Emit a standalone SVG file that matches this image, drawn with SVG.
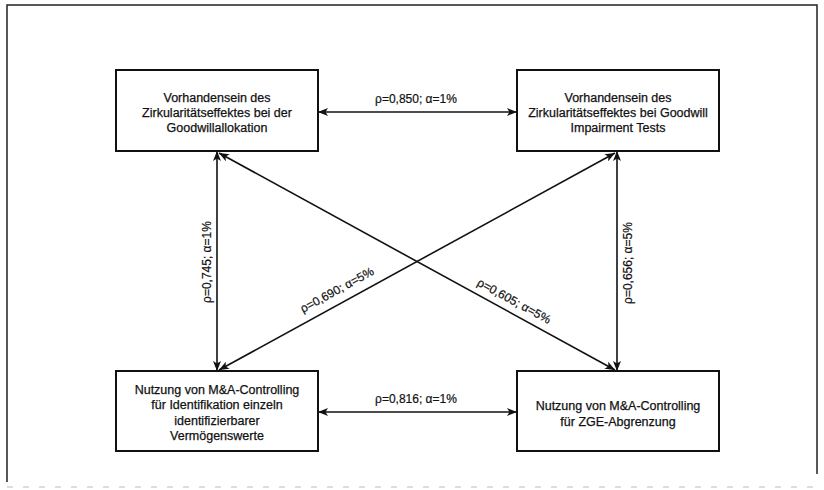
<svg xmlns="http://www.w3.org/2000/svg" width="824" height="490" viewBox="0 0 824 490">
  <style>
    .box { fill: #ffffff; stroke: #111111; stroke-width: 2; }
    .node-text { font-family: "Liberation Sans", Arial, sans-serif; font-size: 12.5px; fill: #111111; stroke: #111111; stroke-width: 0.25; text-anchor: middle; }
    .edge { stroke: #111111; stroke-width: 1.6; fill: none; marker-start: url(#head); marker-end: url(#head); }
    .edge-label { font-family: "Liberation Sans", Arial, sans-serif; font-size: 12px; fill: #111111; stroke: #111111; stroke-width: 0.2; text-anchor: middle; }
    .frame { stroke: #222222; stroke-width: 1.5; fill: none; }
  </style>
  <defs>
    <marker id="head" viewBox="0 0 10 8" refX="10" refY="4" markerWidth="10" markerHeight="8" markerUnits="userSpaceOnUse" orient="auto-start-reverse">
      <path d="M0,0 L10,4 L0,8 L2.5,4 Z" fill="#111111"/>
    </marker>
  </defs>

  <rect width="824" height="490" fill="#ffffff"/>

  <!-- outer frame -->
  <path class="frame" d="M7,482 L7,5 L817,5 L817,474"/>
  <line x1="7" y1="487" x2="817" y2="487" stroke="#bbbbbb" stroke-width="1" stroke-dasharray="6 10"/>

  <!-- connectors -->
  <g id="connectors">
    <line class="edge" x1="318" y1="112" x2="517" y2="112"/>
    <line class="edge" x1="318" y1="412" x2="517" y2="412"/>
    <line class="edge" x1="217" y1="151" x2="217" y2="371"/>
    <line class="edge" x1="617" y1="151" x2="617" y2="371"/>
    <line class="edge" x1="219" y1="153" x2="615" y2="370"/>
    <line class="edge" x1="219" y1="370" x2="615" y2="153"/>

    <text class="edge-label" x="416" y="103">ρ=0,850; α=1%</text>
    <text class="edge-label" x="416" y="403">ρ=0,816; α=1%</text>
    <text class="edge-label" transform="translate(211,262) rotate(-90)">ρ=0,745; α=1%</text>
    <text class="edge-label" transform="translate(632,263) rotate(-90)">ρ=0,656; α=5%</text>
    <text class="edge-label" transform="translate(337,290) rotate(-28.6)" y="4">ρ=0,690; α=5%</text>
    <text class="edge-label" transform="translate(514,301) rotate(28.6)" y="4">ρ=0,605; α=5%</text>
  </g>

  <!-- nodes -->
  <g id="node-goodwillallokation">
    <rect class="box" x="116" y="70" width="202" height="81"/>
    <text class="node-text" x="217" y="102">Vorhandensein des</text>
    <text class="node-text" x="217" y="117">Zirkularitätseffektes bei der</text>
    <text class="node-text" x="217" y="132">Goodwillallokation</text>
  </g>

  <g id="node-impairment">
    <rect class="box" x="517" y="70" width="202" height="81"/>
    <text class="node-text" x="618" y="102">Vorhandensein des</text>
    <text class="node-text" x="618" y="117">Zirkularitätseffektes bei Goodwill</text>
    <text class="node-text" x="618" y="132">Impairment Tests</text>
  </g>

  <g id="node-identifikation">
    <rect class="box" x="116" y="371" width="202" height="80"/>
    <text class="node-text" x="217" y="394">Nutzung von M&amp;A-Controlling</text>
    <text class="node-text" x="217" y="409">für Identifikation einzeln</text>
    <text class="node-text" x="217" y="425">identifizierbarer</text>
    <text class="node-text" x="217" y="440">Vermögenswerte</text>
  </g>

  <g id="node-zge">
    <rect class="box" x="517" y="371" width="202" height="80"/>
    <text class="node-text" x="618" y="410">Nutzung von M&amp;A-Controlling</text>
    <text class="node-text" x="618" y="426">für ZGE-Abgrenzung</text>
  </g>
</svg>
